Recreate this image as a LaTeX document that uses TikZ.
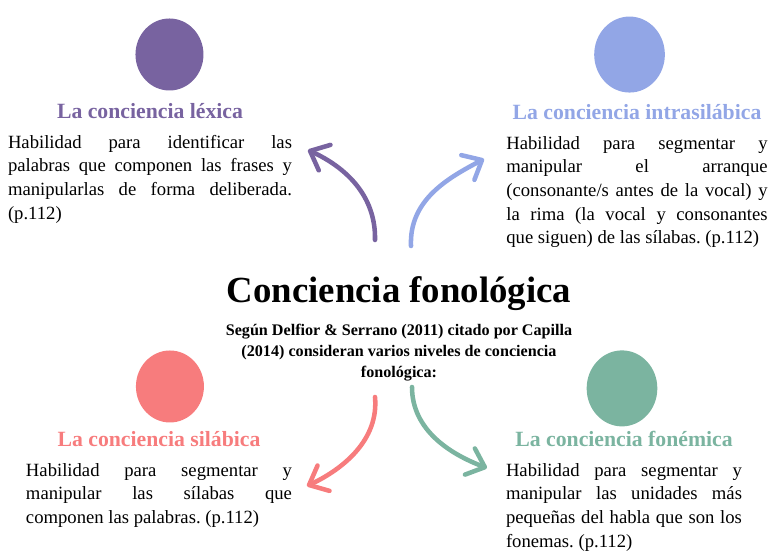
\documentclass[tikz,border=0pt]{standalone}
\usepackage{fontspec}
\setmainfont{Liberation Serif}
\usetikzlibrary{shapes.geometric, arrows.meta, positioning}
\definecolor{morado}{RGB}{120,99,160}
\definecolor{azul}{RGB}{146,166,230}
\definecolor{rojo}{RGB}{247,124,125}
\definecolor{verde}{RGB}{123,180,160}
\tolerance=10000
\hyphenpenalty=10000
\frenchspacing
\tikzstyle{circulo} = [ellipse, minimum width=51pt, minimum height=54pt, inner sep=0pt]
\tikzstyle{titulo} = [inner sep=0pt, anchor=base, font=\fontsize{16.3}{19}\selectfont\bfseries]
\tikzstyle{parrafo} = [inner sep=0pt, align=justify, font=\fontsize{14}{17.8}\selectfont]
\tikzstyle{flecha} = [line width=3.4pt, line cap=round, -{Straight Barb[length=12pt, width=21pt, round]}]

\begin{document}
\begin{tikzpicture}[x=0.75pt, y=-0.75pt, node distance=42pt]
\useasboundingbox (0,0) rectangle (769,552);

\node (cf) [inner sep=0pt, anchor=base, font=\fontsize{27.6}{33}\selectfont\bfseries] at (399,303) {Conciencia fonológica};
\node (sub) [inner sep=0pt, align=center, font=\fontsize{12.1}{15.8}\selectfont\bfseries, below=9pt of cf] {Según Delfior \& Serrano (2011) citado por Capilla\\(2014) consideran varios niveles de conciencia\\fonológica:};

\node (t1) [titulo, text=morado] at (150,119) {La conciencia léxica};
\node (c1) [circulo, fill=morado, above of=t1, xshift=14.6pt, yshift=0.8pt] {};
\node (p1) [parrafo, text width=213pt, below=11.5pt of t1] {Habilidad para identificar las\linebreak palabras que componen las frases y\linebreak manipularlas de forma deliberada.\linebreak (p.112)};

\node (t2) [titulo, text=azul] at (637,120) {La conciencia intrasilábica};
\node (c2) [circulo, fill=azul, minimum width=53pt, minimum height=57pt, above of=t2, xshift=-5.6pt, yshift=1.5pt] {};
\node (p2) [parrafo, text width=196pt, below=11.5pt of t2] {Habilidad para segmentar y\linebreak manipular el arranque\linebreak (consonante/s antes de la vocal) y\linebreak la rima (la vocal y consonantes\linebreak que siguen) de las sílabas. (p.112)};

\node (t3) [titulo, text=rojo] at (159,447) {La conciencia silábica};
\node (c3) [circulo, fill=rojo, above of=t3, xshift=8.2pt, yshift=-2.2pt] {};
\node (p3) [parrafo, text width=199.5pt, below=11.5pt of t3] {Habilidad para segmentar y\linebreak manipular las sílabas que\linebreak componen las palabras. (p.112)};

\node (t4) [titulo, text=verde] at (624,447) {La conciencia fonémica};
\node (c4) [circulo, fill=verde, minimum width=53pt, minimum height=57pt, above of=t4, xshift=-1.5pt, yshift=-3.7pt] {};
\node (p4) [parrafo, text width=177pt, below=11.5pt of t4] {Habilidad para segmentar y\linebreak manipular las unidades más\linebreak pequeñas del habla que son los\linebreak fonemas. (p.112)};

\coordinate (a1) at (375,240);
\coordinate (b1) at (308,150);
\coordinate (a2) at (411,246);
\coordinate (b2) at (484,159);
\coordinate (a3) at (375,397);
\coordinate (b3) at (307,486);
\coordinate (a4) at (412,387);
\coordinate (b4) at (487,468);

\draw[flecha, morado] (a1) .. controls (376,195) and (345,167) .. (b1);
\draw[flecha, azul] (a2) .. controls (409,200) and (448,178) .. (b2);
\draw[flecha, rojo] (a3) .. controls (379,440) and (343,469) .. (b3);
\draw[flecha, verde] (a4) .. controls (412,430) and (450,454) .. (b4);

\end{tikzpicture}
\end{document}
